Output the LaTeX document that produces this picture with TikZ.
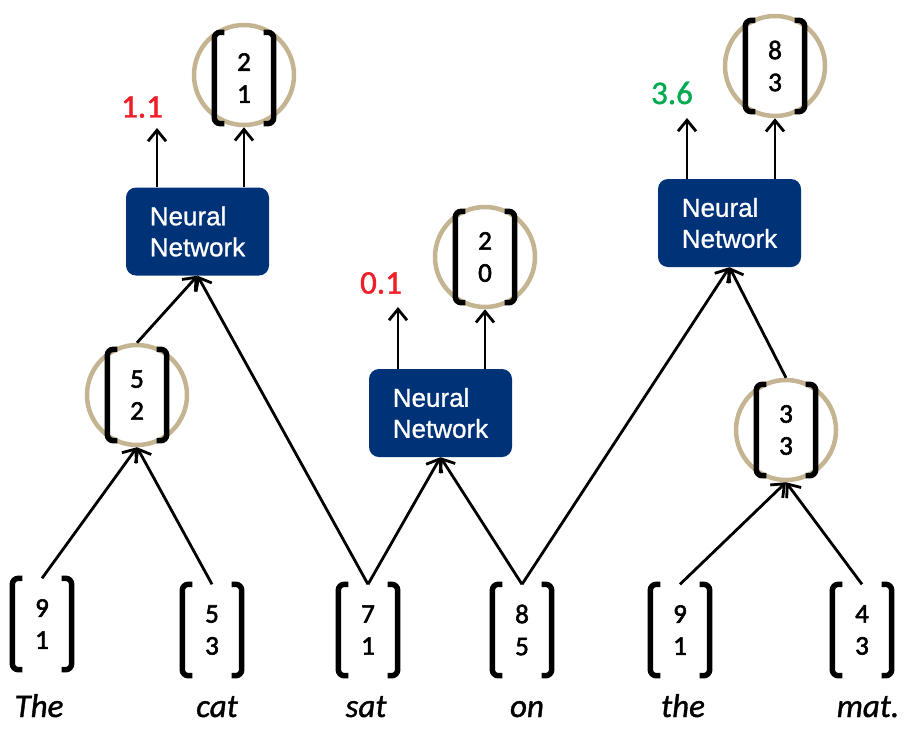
\documentclass[tikz,border=0pt]{standalone}
\usepackage{fontspec}
\setmainfont{Carlito}[FakeBold=1.2]
\newfontfamily\digitfont{Carlito}[FakeBold=2.2]
\newfontfamily\nnfont{Liberation Sans}[FakeBold=1.0]
\usetikzlibrary{arrows.meta,calc}
\definecolor{navyc}{RGB}{0,50,120}
\definecolor{ringc}{RGB}{196,180,145}
\definecolor{redc}{RGB}{240,30,40}
\definecolor{greenc}{RGB}{0,170,80}
\tikzset{
 nnbox/.style={fill=navyc, rounded corners=10pt, minimum width=143pt, minimum height=88pt, text=white, align=left, font=\nnfont\fontsize{26}{31}\selectfont, inner sep=0pt},
 ring/.style={draw=ringc, line width=4.5pt, circle, minimum size=100pt, inner sep=0pt},
 vec/.style={minimum width=59pt, minimum height=91pt, inner sep=0pt, align=center, font=\digitfont\fontsize{27}{32}\selectfont},
 brk/.style={line width=5.5pt, rounded corners=6pt},
 word/.style={font=\itshape\fontsize{33}{33}\selectfont, anchor=base},
 score/.style={font=\fontsize{33}{33}\selectfont},
 arr/.style={line width=2.8pt, -{Straight Barb[length=11pt,width=18pt]}},
}
\newcommand\drawbrackets[1]{%
 \draw[brk] ($(#1.north west)+(10,0)$) -- (#1.north west) -- (#1.south west) -- ($(#1.south west)+(10,0)$);
 \draw[brk] ($(#1.north east)+(-10,0)$) -- (#1.north east) -- (#1.south east) -- ($(#1.south east)+(-10,0)$);}
\begin{document}
\begin{tikzpicture}[x=1pt,y=-1pt]
\useasboundingbox (0,0) rectangle (918,740);
% neural network boxes
\node[nnbox] (nn1) at (197.5,231.5) {Neural\\Network};
\node[nnbox] (nn2) at (440.5,413) {Neural\\Network};
\node[nnbox] (nn3) at (729.5,223) {Neural\\Network};
% rings
\node[ring] (c21) at (244,75) {};
\node[ring] (c52) at (137,395) {};
\node[ring] (c20) at (485,257) {};
\node[ring] (c83) at (775,66) {};
\node[ring] (c33) at (786,430) {};
% vectors in rings
\node[vec] (v21) at (244,78) {2\\1};
\node[vec] (v52) at (c52) {5\\2};
\node[vec] (v20) at (c20) {2\\0};
\node[vec] (v83) at (c83) {8\\3};
\node[vec] (v33) at (c33) {3\\3};
% leaf vectors
\node[vec] (l1) at (42,624) {9\\1};
\node[vec] (l2) at (212,630) {5\\3};
\node[vec] (l3) at (368,630) {7\\1};
\node[vec] (l4) at (522,630) {8\\5};
\node[vec] (l5) at (680,630) {9\\1};
\node[vec] (l6) at (862,630) {4\\3};
\foreach \n in {v21,v52,v20,v83,v33,l1,l2,l3,l4,l5,l6} {\drawbrackets{\n}}
% words
\node[word] (w1) at (39,717) {The};
\node[word] (w2) at (217,717) {cat};
\node[word] (w3) at (366,717) {sat};
\node[word] (w4) at (527,717) {on};
\node[word] (w5) at (683,717) {the};
\node[word] (w6) at (868,717) {mat.};
% scores
\node[score,text=redc] (s1) at (142,107) {1.1};
\node[score,text=redc] (s2) at (381,283) {0.1};
\node[score,text=greenc] (s3) at (672,93) {3.6};
\coordinate (t1) at (157,128);
\coordinate (t2) at (398,307);
\coordinate (t3) at (687,118);
% connectors
\draw[arr] (l1.north) -- (c52.south);
\draw[arr] (l2.north) -- (c52.south);
\draw[arr] (c52.north) -- (nn1.south);
\draw[arr] (l3.north) -- (nn1.south);
\draw[arr] (l3.north) -- (nn2.south);
\draw[arr] (l4.north) -- (nn2.south);
\draw[arr] (l4.north) -- (nn3.south);
\draw[arr] (c33.north) -- (nn3.south);
\draw[arr] (l5.north) -- (c33.south);
\draw[arr] (l6.north) -- (c33.south);
\draw[arr] (nn1.north -| t1) -- (t1);
\draw[arr] (nn1.north -| c21.south) -- (c21.south);
\draw[arr] (nn2.north -| t2) -- (t2);
\draw[arr] (nn2.north -| c20.south) -- (c20.south);
\draw[arr] (nn3.north -| t3) -- (t3);
\draw[arr] (nn3.north -| c83.south) -- (c83.south);
\end{tikzpicture}
\end{document}
